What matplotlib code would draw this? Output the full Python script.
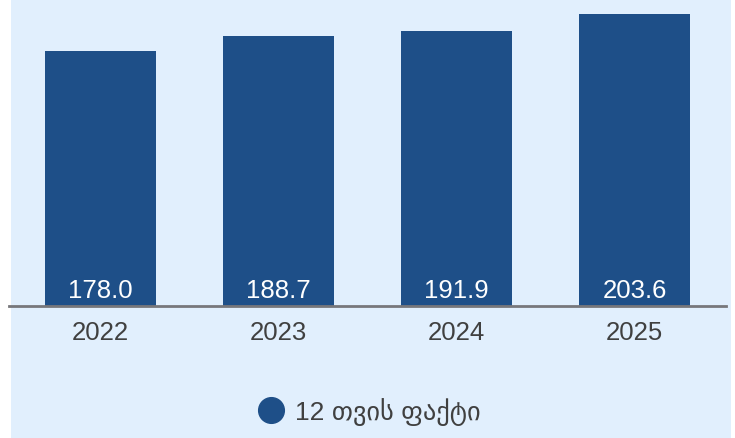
import matplotlib
matplotlib.use("Agg")
import matplotlib.pyplot as plt
from matplotlib.lines import Line2D
from matplotlib.patches import Rectangle

categories = ["2022", "2023", "2024", "2025"]
values = [178.0, 188.7, 191.9, 203.6]
series_name = "12 თვის ფაქტი"

BG = "#E1EFFD"
BAR = "#1E4F88"
TXT = "#404040"
FONT = ["Liberation Sans", "DejaVu Sans"]

W, H = 735, 439
fig = plt.figure(figsize=(W / 100, H / 100), dpi=100)
fig.patch.set_facecolor("white")
fig.patches.append(Rectangle((11 / W, 0), (731 - 11) / W, 1, transform=fig.transFigure,
                             facecolor=BG, edgecolor="none", zorder=-10))

ax = fig.add_axes([9.5 / W, (H - 307) / H, (726 - 9.5) / W, 307 / H])
ax.set_zorder(1)
ax.set_facecolor("none")
x = list(range(len(categories)))
ax.bar(x, values, width=0.6236, color=BAR, zorder=2)
ax.set_xlim(-0.511, 3.514)
ax.set_ylim(0, 307 * 178.0 / 255)

for xi, v in zip(x, values):
    ax.text(xi, 2.5, f"{v:.1f}", ha="center", va="bottom", color="white",
            fontsize=18.5, family=FONT, zorder=3)

for s in ["top", "left", "right"]:
    ax.spines[s].set_visible(False)
ax.spines["bottom"].set_color("#77777B")
ax.spines["bottom"].set_linewidth(2)
ax.spines["bottom"].set_zorder(4)
ax.set_yticks([])
ax.set_xticks(x)
ax.set_xticklabels(categories, fontsize=18.5, color=TXT, family=FONT)
ax.tick_params(axis="x", length=0, pad=10)

handle = Line2D([], [], marker="o", ls="", color=BAR, markersize=18.5)
fig.legend(handles=[handle], labels=[series_name], loc="center",
           bbox_to_anchor=(369 / W, (H - 412) / H), frameon=False,
           prop={"family": FONT, "size": 19}, labelcolor=TXT,
           handletextpad=0.4, handlelength=1.0)

fig.savefig("out.png", dpi=100)
